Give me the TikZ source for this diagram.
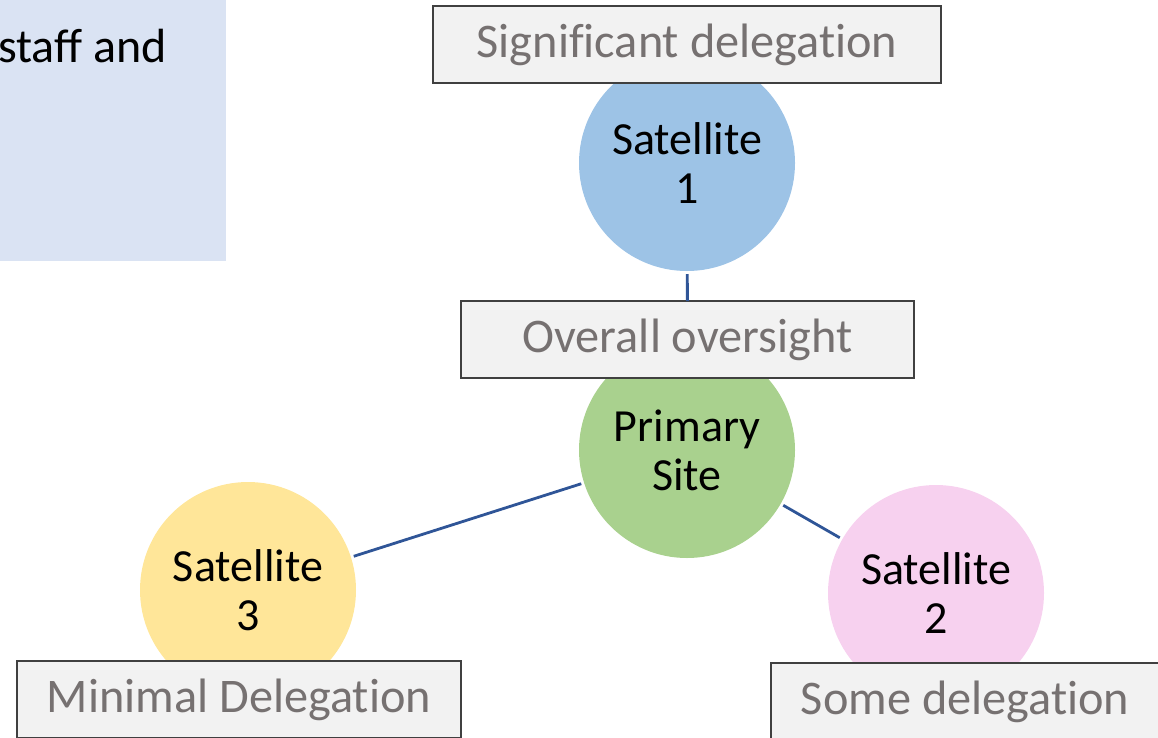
\documentclass[tikz,border=0pt]{standalone}
\usepackage{fontspec}
\setmainfont{Carlito}
\newfontfamily\tagfont{Carlito}[Ligatures=NoCommon]
\definecolor{boxfill}{HTML}{F2F2F2}
\definecolor{boxdraw}{HTML}{404040}
\definecolor{boxtext}{HTML}{767171}
\definecolor{connblue}{HTML}{2F5597}
\definecolor{sideblue}{HTML}{DAE3F3}
\definecolor{satblue}{HTML}{9DC3E6}
\definecolor{primgreen}{HTML}{A9D18E}
\definecolor{satyellow}{HTML}{FFE699}
\definecolor{satpink}{HTML}{F7D1EF}
\begin{document}
\begin{tikzpicture}[x=1pt,y=-1pt,
  site/.style={circle,minimum size=216pt,inner sep=0pt,outer sep=3pt,align=center,
    font=\fontsize{46}{49}\selectfont,text=black},
  tag/.style={rectangle,draw=boxdraw,line width=1.2pt,fill=boxfill,minimum height=77pt,
    inner sep=0pt,outer sep=0pt,font=\tagfont\fontsize{48.3}{56}\selectfont,text=boxtext},
  conn/.style={draw=connblue,line width=2.8pt}]
\useasboundingbox (0,0) rectangle (1158,737);
\clip (0,0) rectangle (1158,737);
% side panel
\fill[sideblue] (-5,-5) rectangle (226,261);
\node[anchor=base east,inner sep=0pt,font=\fontsize{48}{52}\selectfont,text=black] (side) at (167,62) {staff and};
% circles
\node[site,fill=satblue] (sat1) at (687,163) {Satellite\\1};
\node[site,fill=primgreen] (prim) at (687,450) {Primary\\Site};
\node[site,fill=satyellow] (sat3) at (248,590) {Satellite\\3};
\node[site,fill=satpink] (sat2) at (936,593) {Satellite\\2};
% boxes
\node[tag,minimum width=508pt] (sig) at (687,44.5) {\raisebox{-3pt}{Significant delegation}};
\node[tag,minimum width=453pt] (over) at (687.5,339.5) {\raisebox{-3pt}{Overall oversight}};
\node[tag,minimum width=444pt] (mini) at (239,699.5) {\raisebox{-3pt}{Minimal Delegation}};
\node[tag,minimum width=388pt] (some) at (965,701.5) {\raisebox{-3pt}{Some delegation}};
% connectors
\draw[conn] (sat1) -- (over);
\draw[conn] (prim) -- (sat3);
\draw[conn] (prim) -- (sat2);
\end{tikzpicture}
\end{document}
